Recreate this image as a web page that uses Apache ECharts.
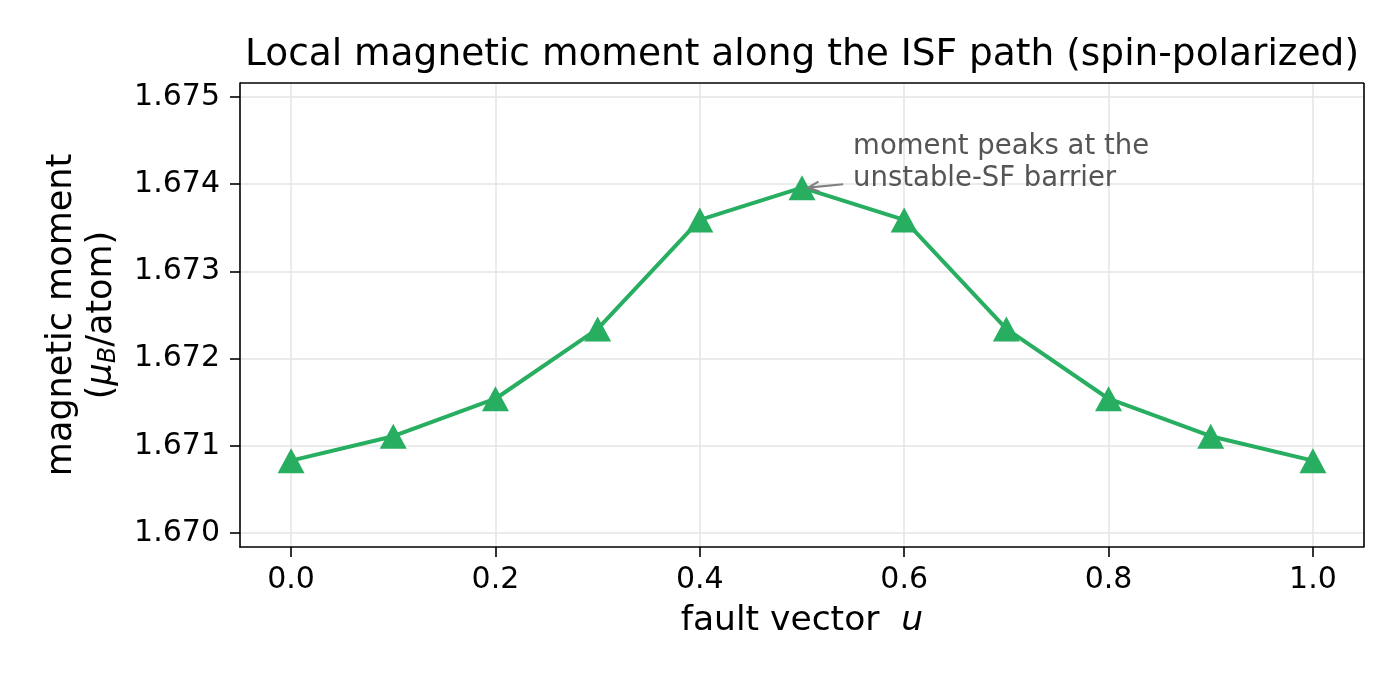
<!DOCTYPE html>
<html>
<head>
<meta charset="utf-8">
<script src="https://cdn.jsdelivr.net/npm/echarts@6/dist/echarts.min.js"></script>
<style>html,body{margin:0;padding:0;background:#fff}#c{width:1400px;height:680px}</style>
</head>
<body>
<div id="c"></div>
<script>
const faultU = [0.0, 0.1, 0.2, 0.3, 0.4, 0.5, 0.6, 0.7, 0.8, 0.9, 1.0];
const moment = [1.67083, 1.67111, 1.67154, 1.67234, 1.67359, 1.67396, 1.67359, 1.67234, 1.67154, 1.67111, 1.67083];
const xTicks = [0.0, 0.2, 0.4, 0.6, 0.8, 1.0];
const yTicks = [1.670, 1.671, 1.672, 1.673, 1.674, 1.675];
const peakIndex = 5;
const noteLines = ['moment peaks at the', 'unstable-SF barrier'];
const notePos = [0.55, 1.67424];

const FONT = 'DejaVu Sans';
const chart = echarts.init(document.getElementById('c'), null, {renderer: 'canvas'});
const gridCol = '#e5e5e5';

chart.setOption({
  animation: false,
  backgroundColor: '#fff',
  textStyle: {fontFamily: FONT},
  title: {
    text: 'Local magnetic moment along the ISF path (spin-polarized)',
    left: 797, top: 31, textAlign: 'center',
    textStyle: {fontFamily: FONT, fontSize: 37.5, fontWeight: 'normal', color: '#000'}
  },
  grid: {left: 240, right: 36, top: 83, bottom: 133, containLabel: false},
  xAxis: {
    type: 'value', min: -0.05, max: 1.05,
    name: 'fault vector  {i|u}', nameLocation: 'middle', nameGap: 57,
    nameTextStyle: {fontFamily: FONT, fontSize: 34.5, color: '#000', verticalAlign: 'top',
      rich: {i: {fontFamily: FONT, fontStyle: 'italic', fontSize: 34.5, color: '#000'}}},
    axisLine: {show: true, onZero: false, lineStyle: {color: '#000', width: 1.6}},
    axisTick: {show: true, length: 10, inside: false, customValues: xTicks, lineStyle: {color: '#000', width: 1.6}},
    axisLabel: {customValues: xTicks, margin: 18, fontSize: 30, color: '#000', fontFamily: FONT,
      formatter: v => v.toFixed(1)},
    splitLine: {show: true, lineStyle: {color: gridCol, width: 1.5}}
  },
  yAxis: {
    type: 'value', min: 1.66984, max: 1.67516,
    name: 'magnetic moment\n({m|μ}{s|B}/atom)', nameLocation: 'middle', nameGap: 118, nameRotate: 90,
    nameTextStyle: {fontFamily: FONT, fontSize: 35, color: '#000', lineHeight: 40, align: 'center',
      rich: {m: {fontFamily: FONT, fontStyle: 'italic', fontSize: 35, color: '#000'},
             s: {fontFamily: FONT, fontStyle: 'italic', fontSize: 24, color: '#000', padding: [14, 0, 0, 0]}}},
    axisLine: {show: true, onZero: false, lineStyle: {color: '#000', width: 1.6}},
    axisTick: {show: true, length: 10, inside: false, customValues: yTicks, lineStyle: {color: '#000', width: 1.6}},
    axisLabel: {customValues: yTicks, margin: 20, fontSize: 30, color: '#000', fontFamily: FONT,
      formatter: v => v.toFixed(3)},
    splitLine: {show: true, lineStyle: {color: gridCol, width: 1.5}}
  },
  series: [{
    type: 'line',
    data: faultU.map((u, i) => [u, moment[i]]),
    symbol: 'triangle', symbolSize: [27, 25],
    lineStyle: {color: '#27ae60', width: 4},
    itemStyle: {color: '#27ae60'},
    z: 3
  }]
});

function decorate() {
  const tl = chart.convertToPixel({gridIndex: 0}, [-0.05, 1.67516]);
  const br = chart.convertToPixel({gridIndex: 0}, [1.05, 1.66984]);
  const peak = chart.convertToPixel({gridIndex: 0}, [faultU[peakIndex], moment[peakIndex]]);
  const note = chart.convertToPixel({gridIndex: 0}, notePos);
  const arrowStart = [note[0] - 10, note[1] + 21];
  const arrowEnd = [peak[0] + 6, peak[1]];
  const ang = Math.atan2(arrowEnd[1] - arrowStart[1], arrowEnd[0] - arrowStart[0]);
  const hl = 11, hw = 5;
  const p1 = [arrowEnd[0] - hl * Math.cos(ang) + hw * Math.sin(ang), arrowEnd[1] - hl * Math.sin(ang) - hw * Math.cos(ang)];
  const p2 = [arrowEnd[0] - hl * Math.cos(ang) - hw * Math.sin(ang), arrowEnd[1] - hl * Math.sin(ang) + hw * Math.cos(ang)];
  chart.setOption({
    graphic: [
      {type: 'line', shape: {x1: tl[0], y1: tl[1], x2: br[0], y2: tl[1]}, style: {stroke: '#000', lineWidth: 1.6}, z: 10},
      {type: 'line', shape: {x1: br[0], y1: tl[1], x2: br[0], y2: br[1]}, style: {stroke: '#000', lineWidth: 1.6}, z: 10},
      {type: 'line', shape: {x1: arrowStart[0], y1: arrowStart[1], x2: arrowEnd[0], y2: arrowEnd[1]}, style: {stroke: '#808080', lineWidth: 2.2}, z: 10},
      {type: 'polyline', shape: {points: [p1, arrowEnd, p2]}, style: {stroke: '#808080', lineWidth: 2.2, fill: null}, z: 10},
      {type: 'text', x: note[0], y: note[1], z: 10,
        style: {text: noteLines.join('\n'), font: '27.5px "DejaVu Sans"', fill: '#555555',
          align: 'left', verticalAlign: 'middle', lineHeight: 32}}
    ]
  });
}
decorate();
</script>
</body>
</html>
